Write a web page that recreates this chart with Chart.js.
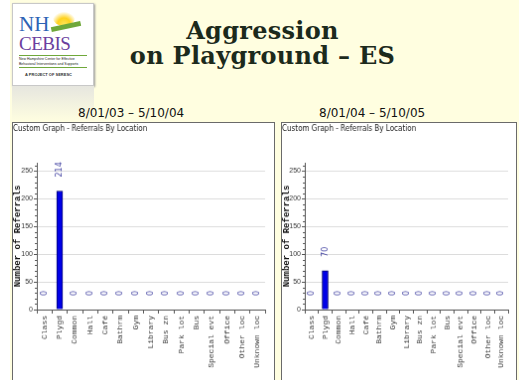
<!DOCTYPE html>
<html>
<head>
<meta charset="utf-8">
<script src="https://cdn.jsdelivr.net/npm/chart.js@4.4.1/dist/chart.umd.min.js"></script>
<style>
  html, body { margin: 0; padding: 0; background: #fff; width: 528px; height: 380px; overflow: hidden; }
  .abs { position: absolute; }
  #slide { left: 10px; top: 0; width: 509px; height: 380px; background: #fffee0; }
  #logo { left: 12px; top: 3px; width: 80px; height: 81px; background: #fff; border: 1px solid #c8c8c8; box-shadow: 1px 1px 2px #999; overflow: hidden; font-family: "Liberation Serif", serif; }
  #logoShade { left: 12px; top: 86px; width: 82px; height: 36px; background: linear-gradient(to bottom, #e6e6df, #fffee0); }
  #title { left: 80px; top: 18px; width: 365px; text-align: center; font: bold 24px/25px "DejaVu Serif", Georgia, serif; letter-spacing: 0.3px; color: #1c2a1c; }
  .dates { top: 106px; font: 12px "DejaVu Sans", Verdana, sans-serif; color: #111; white-space: nowrap; }
  canvas { position: absolute; background: #fff; border: 1px solid #6a6a6a; }
</style>
</head>
<body>
<div id="slide" class="abs"></div>
<div id="logo" class="abs">
  <div class="abs" style="left:40px;top:6px;width:22px;height:16px;border-radius:50%;background:radial-gradient(circle at 50% 90%, #ffe45a 0, #ffd21e 35%, rgba(255,240,150,0) 70%);"></div>
  <div class="abs" style="left:38px;top:20px;width:30px;height:5px;background:#6fa83a;transform:rotate(-12deg);"></div>
  <div class="abs" style="left:6px;top:10px;font-size:21px;line-height:21px;color:#2d63b5;">NH</div>
  <div class="abs" style="left:6px;top:30px;font-size:19px;line-height:19px;color:#6b3f9e;letter-spacing:-0.5px;">CEBIS</div>
  <div class="abs" style="left:6px;top:51px;width:68px;height:1px;background:#6fa83a;"></div>
  <div class="abs" style="left:6px;top:53px;width:70px;font:3.5px/4.5px 'Liberation Sans',sans-serif;color:#222;">New Hampshire Center for Effective Behavioral Interventions and Supports</div>
  <div class="abs" style="left:6px;top:63px;width:68px;height:1px;background:#6fa83a;"></div>
  <div class="abs" style="left:12px;top:68px;font:bold 4px 'Liberation Sans',sans-serif;color:#333;">A PROJECT OF SERESC</div>
</div>
<div id="logoShade" class="abs"></div>
<div id="title" class="abs">Aggression<br>on Playground – ES</div>
<div class="abs dates" style="left:78px;">8/01/03 – 5/10/04</div>
<div class="abs dates" style="left:319px;">8/01/04 – 5/10/05</div>
<canvas id="chartA" width="263" height="260" style="left:12px;top:122px;"></canvas>
<canvas id="chartB" width="236" height="260" style="left:281px;top:122px;"></canvas>
<script>
const categories = ['Class', 'Plygd', 'Common', 'Hall', 'Café', 'Bathrm', 'Gym', 'Library', 'Bus zn', 'Park lot', 'Bus', 'Special evt', 'Office', 'Other loc', 'Unknown loc']
const referrals0304 = [0, 214, 0, 0, 0, 0, 0, 0, 0, 0, 0, 0, 0, 0, 0]
const referrals0405 = [0, 70, 0, 0, 0, 0, 0, 0, 0, 0, 0, 0, 0, 0, 0]
const yTicks = [0, 50, 100, 150, 200, 250]
const yMax = 265
const chartTitle = 'Custom Graph - Referrals By Location'
const yTitle = 'Number of Referrals'

// value written above each bar, turned upright
const valueLabels = {
  id: 'valueLabels',
  afterDatasetsDraw(chart) {
    const ctx = chart.ctx
    const data = chart.data.datasets[0].data
    chart.getDatasetMeta(0).data.forEach((bar, i) => {
      ctx.save()
      ctx.translate(bar.x, bar.y - 14)
      ctx.rotate(-Math.PI / 2)
      ctx.font = '8px "DejaVu Sans", sans-serif'
      ctx.fillStyle = '#3f3fa0'
      ctx.textAlign = 'left'
      ctx.textBaseline = 'middle'
      ctx.fillText(String(data[i]), 0, 0)
      ctx.restore()
    })
  }
}

// small dotted minor ticks along the value axis
const minorTicks = {
  id: 'minorTicks',
  afterDraw(chart) {
    const y = chart.scales.y
    const ctx = chart.ctx
    ctx.save()
    ctx.fillStyle = '#555'
    for (let v = 10; v < yMax; v += 10) {
      if (v % 50 === 0) continue
      const py = Math.round(y.getPixelForValue(v))
      ctx.fillRect(y.right - 2, py, 2, 1)
    }
    ctx.restore()
  }
}

function makeChart(id, values, axisLeft, padRight) {
  const canvas = document.getElementById(id)
  const plotBottom = 188
  return new Chart(canvas, {
    type: 'bar',
    data: {
      labels: categories,
      datasets: [{
        data: values,
        backgroundColor: '#0000e8',
        borderColor: '#00006e',
        borderWidth: 1,
        barThickness: 6
      }]
    },
    options: {
      responsive: false,
      animation: false,
      devicePixelRatio: 1,
      layout: { padding: { left: 0, right: padRight, top: 0, bottom: 0 } },
      plugins: {
        legend: { display: false },
        tooltip: { enabled: false },
        title: {
          display: true,
          text: chartTitle,
          align: 'start',
          color: '#222',
          font: { family: '"DejaVu Sans Condensed", "Liberation Sans Narrow", "Liberation Sans", sans-serif', size: 8, weight: 'normal', lineHeight: 1.25 },
          padding: { top: 1, bottom: 29 }
        }
      },
      scales: {
        x: {
          offset: true,
          grid: { offset: true, drawOnChartArea: false, color: '#555', tickLength: 4 },
          border: { color: '#555' },
          ticks: {
            autoSkip: false,
            minRotation: 90,
            maxRotation: 90,
            padding: 2,
            color: '#333',
            font: { family: '"Liberation Mono", monospace', size: 8 }
          },
          afterFit(s) { s.height = canvas.height - plotBottom }
        },
        y: {
          min: 0,
          max: yMax,
          afterBuildTicks(s) { s.ticks = yTicks.map(v => ({ value: v })) },
          grid: { color: '#dcdcdc', tickColor: '#555', tickLength: 3 },
          border: { color: '#555' },
          ticks: { padding: 1, color: '#333', font: { family: '"Liberation Sans Narrow", "Liberation Sans", sans-serif', size: 7 } },
          title: {
            display: true,
            text: yTitle,
            color: '#111',
            padding: 0,
            font: { family: '"Liberation Mono", monospace', size: 9, weight: 'bold', lineHeight: 1 }
          },
          afterFit(s) { s.width = axisLeft }
        }
      }
    },
    plugins: [valueLabels, minorTicks]
  })
}

makeChart('chartA', referrals0304, 24, 9)
makeChart('chartB', referrals0405, 23, 8)
</script>
</body>
</html>
